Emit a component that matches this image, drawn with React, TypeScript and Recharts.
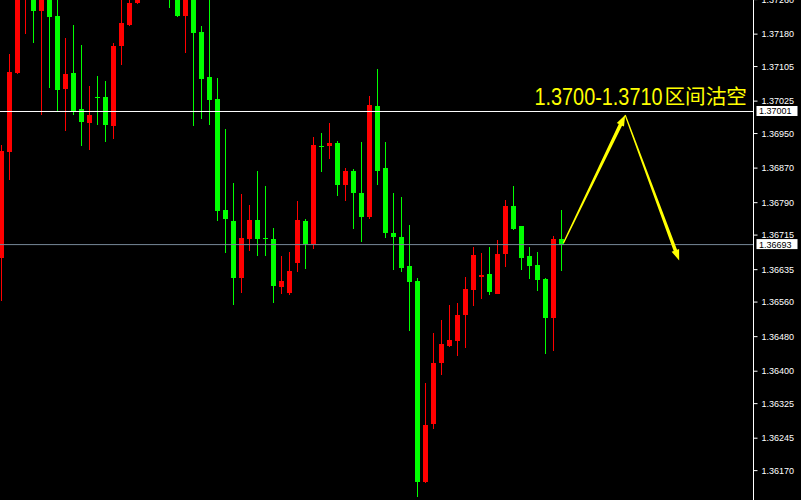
import React from 'react'
import { ComposedChart, Bar, XAxis, YAxis, ReferenceLine } from 'recharts'

// EURUSD-like M5 candles (red = up, green = down)
const opens = [
  1.36663, 1.36907, 1.3709, 1.37281, 1.37339, 1.37233, 1.37276, 1.37223, 1.37053, 1.3709,
  1.37006, 1.36974, 1.37034, 1.37034, 1.36967, 1.37152, 1.372, 1.37251, 1.37304, 1.3735,
  1.37316, 1.37293, 1.37281, 1.37221, 1.3727, 1.37184, 1.3708, 1.3703, 1.36773, 1.36748,
  1.36616, 1.36706, 1.3675, 1.36708, 1.36706, 1.36596, 1.36582, 1.36651, 1.36748, 1.36695,
  1.36922, 1.36921, 1.36928, 1.36831, 1.36863, 1.36813, 1.36757, 1.37013, 1.3687, 1.3672,
  1.36711, 1.36644, 1.36609, 1.36143, 1.36277, 1.3642, 1.36459, 1.36471, 1.36529, 1.36589,
  1.36619, 1.36626, 1.36579, 1.36672, 1.36783, 1.36736, 1.36667, 1.36646, 1.36614, 1.36522,
  1.36706,
]
const highs = [
  1.36923, 1.37133, 1.37327, 1.3735, 1.37362, 1.37293, 1.37286, 1.3727, 1.3717, 1.372,
  1.37156, 1.3706, 1.37083, 1.37071, 1.37159, 1.37281, 1.37263, 1.37327, 1.37373, 1.37362,
  1.37327, 1.37316, 1.37293, 1.37286, 1.37281, 1.37198, 1.3727, 1.37078, 1.3696, 1.36836,
  1.3681, 1.36785, 1.36863, 1.36829, 1.36732, 1.36667, 1.36676, 1.36794, 1.36753, 1.36942,
  1.36951, 1.36974, 1.36933, 1.3687, 1.36868, 1.3693, 1.37036, 1.37099, 1.3693, 1.36813,
  1.36803, 1.36739, 1.36616, 1.36372, 1.36489, 1.36519, 1.36554, 1.36559, 1.36619, 1.36688,
  1.36674, 1.36688, 1.36704, 1.36796, 1.36829, 1.36737, 1.36688, 1.36676, 1.36616, 1.36713,
  1.36773,
]
const lows = [
  1.36563, 1.36843, 1.37087, 1.3718, 1.37159, 1.36993, 1.37055, 1.37002, 1.36956, 1.36993,
  1.36921, 1.36912, 1.36969, 1.3693, 1.36937, 1.37108, 1.37199, 1.37249, 1.37293, 1.37286,
  1.3727, 1.3724, 1.37219, 1.37136, 1.36967, 1.36983, 1.36969, 1.36748, 1.36674, 1.36554,
  1.36582, 1.36679, 1.36667, 1.36667, 1.36559, 1.36579, 1.36577, 1.3663, 1.36637, 1.36683,
  1.36861, 1.36891, 1.36806, 1.36794, 1.36729, 1.36699, 1.36753, 1.36831, 1.36709, 1.36635,
  1.3663, 1.36494, 1.36109, 1.36142, 1.36266, 1.36392, 1.36455, 1.36436, 1.36453, 1.36552,
  1.36568, 1.36577, 1.36578, 1.36642, 1.36727, 1.36635, 1.36614, 1.36586, 1.36441, 1.36446,
  1.36633,
]
const closes = [
  1.36909, 1.37092, 1.37293, 1.37327, 1.37233, 1.37276, 1.37219, 1.3705, 1.37087, 1.37002,
  1.36976, 1.36993, 1.37032, 1.36969, 1.37152, 1.37205, 1.37253, 1.37304, 1.3735, 1.37316,
  1.37281, 1.37265, 1.37221, 1.3727, 1.37182, 1.37076, 1.37027, 1.36771, 1.36753, 1.36616,
  1.36709, 1.3675, 1.36706, 1.36706, 1.36598, 1.36609, 1.36633, 1.3675, 1.36695, 1.36923,
  1.3692, 1.36928, 1.36831, 1.36863, 1.36813, 1.36757, 1.37016, 1.36863, 1.3672, 1.36711,
  1.36639, 1.36607, 1.36143, 1.36275, 1.3642, 1.36462, 1.36473, 1.36531, 1.36591, 1.36669,
  1.36623, 1.36584, 1.36672, 1.36783, 1.36729, 1.36663, 1.36644, 1.36612, 1.36522, 1.36706,
  1.36693,
]

const priceTicks = [
  1.3726, 1.3718, 1.37105, 1.37025, 1.3695, 1.3687, 1.3679, 1.36715,
  1.36635, 1.3656, 1.3648, 1.364, 1.36325, 1.36245, 1.3617,
]

const askPrice = 1.37001
const bidPrice = 1.36693
const arrowUp = [
  { i: 70.25, price: 1.36697 },
  { i: 77.96, price: 1.36993 },
]
const arrowDown = [
  { i: 77.96, price: 1.36993 },
  { i: 84.71, price: 1.36656 },
]
const noteDigits = '1.3700-1.3710'
const noteWords = '区间沽空'

const UP = '#ff0000'
const DOWN = '#00ff00'

const candles = opens.map((open, i) => ({
  i,
  open,
  high: highs[i],
  low: lows[i],
  close: closes[i],
  range: [lows[i], highs[i]],
}))

function Candle(props: any) {
  const { x, y, width, height, payload } = props
  const { open, close, high, low } = payload
  const cx = Math.floor(x + width / 2) + 0.5
  const py = (p: number) => y + ((high - p) / (high - low)) * height
  const color = close >= open ? UP : DOWN
  let top = Math.round(Math.min(py(open), py(close)))
  let bottom = Math.round(Math.max(py(open), py(close)))
  if (bottom - top < 1) bottom = top + 1
  const wTop = Math.round(py(high))
  const wBottom = Math.round(py(low))
  return (
    <g>
      <rect x={cx - 0.5} y={wTop} width={1} height={Math.max(1, wBottom - wTop)} fill={color} />
      <rect x={cx - 2.5} y={top} width={5} height={bottom - top} fill={color} />
    </g>
  )
}

// tapered arrow like the MT4 drawing tool
function TaperArrow(props: any) {
  const { x1, y1, x2, y2 } = props
  const dx = x2 - x1
  const dy = y2 - y1
  const len = Math.sqrt(dx * dx + dy * dy) || 1
  const ux = dx / len
  const uy = dy / len
  const nx = -uy
  const ny = ux
  const headLen = 11
  const headHalf = 4
  const w0 = 0.6
  const w1 = 1.8
  const sx = x2 - ux * headLen
  const sy = y2 - uy * headLen
  const pts = [
    [x1 + nx * w0, y1 + ny * w0],
    [sx + nx * w1, sy + ny * w1],
    [sx + nx * headHalf, sy + ny * headHalf],
    [x2, y2],
    [sx - nx * headHalf, sy - ny * headHalf],
    [sx - nx * w1, sy - ny * w1],
    [x1 - nx * w0, y1 - ny * w0],
  ]
  return <polygon points={pts.map((p) => p.join(',')).join(' ')} fill="#ffff00" />
}

function PriceTag(props: any) {
  const { viewBox, text, note } = props
  if (!viewBox) return null
  const { x, y, width } = viewBox
  const right = x + width
  const bx = right + 3
  return (
    <g>
      {note && (
        <g fill="#ffff00">
          <text
            x={right - 91}
            y={y - 6}
            textAnchor="end"
            fontFamily="'Liberation Sans', Arial, sans-serif"
            fontSize={24}
            textLength={128}
            lengthAdjust="spacingAndGlyphs"
          >
            {noteDigits}
          </text>
          <text
            x={right - 89}
            y={y - 7}
            fontFamily="'Noto Sans CJK SC'"
            fontSize={20.5}
            textLength={82.5}
            lengthAdjust="spacingAndGlyphs"
          >
            {noteWords}
          </text>
        </g>
      )}
      <rect x={bx} y={y - 5.5} width={41} height={10} fill="#ffffff" />
      <text
        x={bx + 2.5}
        y={y + 3}
        fill="#000000"
        fontSize={9}
        fontFamily="'Liberation Sans', Arial, sans-serif"
      >
        {text}
      </text>
    </g>
  )
}

export default function App() {
  return (
    <div style={{ width: 801, height: 500, background: '#000' }}>
      <style>{`body{margin:0;background:#000}`}</style>
      <ComposedChart
        width={801}
        height={500}
        data={candles}
        margin={{ top: 0, right: 0, bottom: 0, left: 0 }}
      >
        <XAxis
          type="number"
          dataKey="i"
          domain={[-0.1875, 94]}
          allowDataOverflow
          hide
        />
        <YAxis
          orientation="right"
          width={47.5}
          domain={[1.36102, 1.37259]}
          allowDataOverflow
          ticks={priceTicks}
          interval={0}
          tickFormatter={(v: number) => v.toFixed(5)}
          tick={{ fill: '#ffffff', fontSize: 9, fontFamily: "'Liberation Sans', Arial, sans-serif" }}
          tickSize={4}
          tickMargin={4}
          tickLine={{ stroke: '#ffffff' }}
          axisLine={{ stroke: '#ffffff' }}
        />
        <ReferenceLine
          y={bidPrice}
          stroke="#778899"
          label={<PriceTag text={bidPrice.toFixed(5)} />}
        />
        <ReferenceLine
          y={askPrice}
          stroke="#ffffff"
          label={<PriceTag text={askPrice.toFixed(5)} note />}
        />
        <Bar dataKey="range" barSize={5} shape={<Candle />} isAnimationActive={false} />
        <ReferenceLine
          segment={arrowUp.map((p) => ({ x: p.i, y: p.price }))}
          ifOverflow="visible"
          shape={(p: any) => <TaperArrow {...p} />}
        />
        <ReferenceLine
          segment={arrowDown.map((p) => ({ x: p.i, y: p.price }))}
          ifOverflow="visible"
          shape={(p: any) => <TaperArrow {...p} />}
        />
      </ComposedChart>
    </div>
  )
}
